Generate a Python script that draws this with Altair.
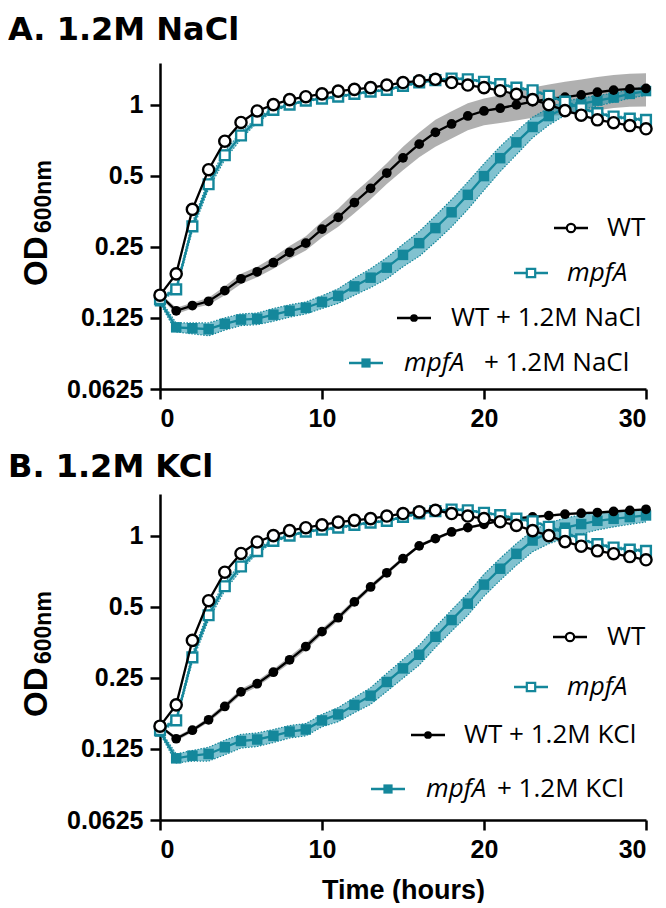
import altair as alt
import pandas as pd

# ---------------- data ----------------
hours = list(range(0, 31))

wt_od = [0.156, 0.192, 0.36, 0.53, 0.70, 0.84, 0.94, 1.0, 1.05, 1.08, 1.11, 1.14, 1.16, 1.18,
         1.21, 1.24, 1.26, 1.28, 1.24, 1.21, 1.18, 1.145, 1.105, 1.05, 1.0, 0.943, 0.902,
         0.862, 0.838, 0.815, 0.79]
mpfa_od = [0.15, 0.165, 0.305, 0.46, 0.61, 0.74, 0.86, 0.95, 1.0, 1.04, 1.06, 1.08, 1.11,
           1.135, 1.155, 1.2, 1.24, 1.27, 1.29, 1.28, 1.25, 1.22, 1.18, 1.15, 1.09, 1.03,
           0.965, 0.92, 0.89, 0.872, 0.862]
mpfa_sd = [0.002, 0.004, 0.012, 0.02, 0.025, 0.025, 0.02, 0.015, 0.01, 0.01, 0.01, 0.01,
           0.01, 0.01, 0.01, 0.01, 0.01, 0.01, 0.01, 0.01, 0.01, 0.01, 0.01, 0.01, 0.01,
           0.01, 0.01, 0.01, 0.01, 0.01, 0.01]

wt_nacl = [0.156, 0.134, 0.141, 0.147, 0.163, 0.183, 0.196, 0.214, 0.237, 0.259, 0.297,
           0.333, 0.385, 0.442, 0.513, 0.595, 0.68, 0.763, 0.828, 0.895, 0.94, 0.965, 0.997,
           1.03, 1.057, 1.076, 1.099, 1.128, 1.152, 1.165, 1.17]
wt_nacl_sd = [0.003, 0.004, 0.004, 0.005, 0.007, 0.009, 0.010, 0.012, 0.015, 0.018, 0.023,
              0.029, 0.038, 0.045, 0.052, 0.068, 0.082, 0.1, 0.11, 0.117, 0.122, 0.13,
              0.14, 0.15, 0.16, 0.172, 0.177, 0.182, 0.184, 0.186, 0.188]
mpfa_nacl = [0.147, 0.114, 0.113, 0.112, 0.118, 0.123, 0.124, 0.129, 0.134, 0.138, 0.146,
             0.155, 0.17, 0.185, 0.204, 0.231, 0.259, 0.3, 0.35, 0.415, 0.498, 0.593, 0.692,
             0.804, 0.894, 0.967, 1.007, 1.04, 1.071, 1.11, 1.141]
mpfa_nacl_sd = [0.003, 0.005, 0.006, 0.007, 0.007, 0.007, 0.007, 0.008, 0.008, 0.008, 0.009,
                0.011, 0.014, 0.017, 0.021, 0.025, 0.031, 0.038, 0.046, 0.055, 0.064, 0.072,
                0.078, 0.08, 0.075, 0.066, 0.058, 0.052, 0.048, 0.046, 0.045]

wt_kcl = [0.156, 0.138, 0.15, 0.166, 0.189, 0.218, 0.236, 0.264, 0.298, 0.339, 0.392, 0.449,
          0.524, 0.606, 0.696, 0.798, 0.905, 0.971, 1.036, 1.081, 1.116, 1.16, 1.182, 1.2,
          1.215, 1.232, 1.244, 1.252, 1.265, 1.278, 1.292]
wt_kcl_sd = [0.002, 0.003, 0.003, 0.004, 0.005, 0.006, 0.007, 0.008, 0.01, 0.011, 0.012,
             0.013, 0.014, 0.015, 0.015, 0.015, 0.015, 0.015, 0.015, 0.015, 0.015, 0.015,
             0.015, 0.015, 0.015, 0.015, 0.015, 0.015, 0.015, 0.015, 0.015]
mpfa_kcl = [0.148, 0.114, 0.117, 0.119, 0.127, 0.135, 0.137, 0.142, 0.148, 0.151, 0.165,
            0.175, 0.192, 0.21, 0.24, 0.274, 0.313, 0.373, 0.439, 0.515, 0.62, 0.724, 0.837,
            0.953, 1.028, 1.08, 1.119, 1.155, 1.178, 1.198, 1.217]
mpfa_kcl_sd = [0.003, 0.005, 0.006, 0.008, 0.009, 0.009, 0.009, 0.009, 0.009, 0.009, 0.01,
               0.012, 0.014, 0.017, 0.021, 0.025, 0.03, 0.037, 0.045, 0.055, 0.066, 0.077,
               0.088, 0.098, 0.104, 0.106, 0.104, 0.098, 0.09, 0.082, 0.075]

y_ticks = [0.0625, 0.125, 0.25, 0.5, 1]
x_ticks = [0, 10, 20, 30]

# ---------------- styling ----------------
W, H = 486, 326
TEAL = "#14879b"
BAND_TEAL = "#2d9ab0"
BAND_GRAY = "#9c9c9c"
TICK_FONT = "Liberation Sans"
LEG_FONT = "Open Sans"
TITLE_FONT = "DejaVu Sans"


def frame(vals, sd=None):
    d = pd.DataFrame({"t": hours, "v": vals})
    if sd is not None:
        d["lo"] = [a - b for a, b in zip(vals, sd)]
        d["hi"] = [a + b for a, b in zip(vals, sd)]
    return d


def one():
    return pd.DataFrame({"k": [0]})


def x_enc(title):
    return alt.X("t:Q", scale=alt.Scale(domain=[0, 30], nice=False, zero=False),
                 axis=alt.Axis(values=x_ticks, format="d", title=title, grid=False,
                               domainColor="black", domainWidth=2.5, tickColor="black",
                               tickWidth=2.5, tickSize=10, labelFont=TICK_FONT,
                               labelFontWeight="bold", labelFontSize=25, labelColor="black",
                               labelPadding=7, titleFont=TICK_FONT, titleFontWeight="bold",
                               titleFontSize=27, titleColor="black", titlePadding=15))


def y_enc(field):
    return alt.Y(field, type="quantitative",
                 scale=alt.Scale(type="log", base=2, domain=[0.0625, 1.5], nice=False),
                 axis=alt.Axis(values=y_ticks, format="~g", title=None, grid=False,
                               domainColor="black", domainWidth=2.5, tickColor="black",
                               tickWidth=2.5, tickSize=10, labelFont=TICK_FONT,
                               labelFontWeight="bold", labelFontSize=25, labelColor="black",
                               labelPadding=7))


def band(df, xt, fill, opacity, dotted):
    layers = [alt.Chart(df).mark_area(color=fill, opacity=opacity).encode(
        x=xt, y=y_enc("lo"), y2="hi")]
    if dotted:
        for f in ("lo", "hi"):
            layers.append(alt.Chart(df).mark_line(color=TEAL, strokeWidth=1.2,
                                                  strokeDash=[1.5, 1.5]).encode(
                x=xt, y=y_enc(f)))
    return layers


def series(df, xt, color, shape, filled, size):
    line = alt.Chart(df).mark_line(color=color, strokeWidth=2.3).encode(x=xt, y=y_enc("v"))
    if filled:
        pts = alt.Chart(df).mark_point(shape=shape, filled=True, color=color, size=size,
                                       opacity=1).encode(x=xt, y=y_enc("v"))
    else:
        pts = alt.Chart(df).mark_point(shape=shape, filled=True, fill="white", stroke=color,
                                       strokeWidth=2.4, size=size, opacity=1).encode(
            x=xt, y=y_enc("v"))
    return [line, pts]


def legend_entry(sym_x, y, parts, color, shape, filled):
    base = alt.Chart(one())
    layers = [base.mark_rule(color=color, strokeWidth=2.3).encode(
        x=alt.value(W + sym_x - 17), x2=alt.value(W + sym_x + 17), y=alt.value(y))]
    if filled:
        layers.append(base.mark_point(shape=shape, filled=True, color=color, opacity=1,
                                      size=60 if shape == "circle" else 85).encode(
            x=alt.value(W + sym_x), y=alt.value(y)))
    else:
        layers.append(base.mark_point(shape=shape, filled=True, fill="white", stroke=color,
                                      strokeWidth=2.2, opacity=1, size=70).encode(
            x=alt.value(W + sym_x), y=alt.value(y)))
    for txt, tx, italic in parts:
        layers.append(base.mark_text(text=txt, align="left", baseline="middle", font=LEG_FONT,
                                     fontSize=26, fontStyle="italic" if italic else "normal",
                                     color="black").encode(
            x=alt.value(W + tx), y=alt.value(y)))
    return layers


def panel(title, title_y, wt_s, wt_s_sd, mp_s, mp_s_sd, legend_rows, x_title):
    xt = x_enc(x_title)
    d_wt = frame(wt_od)
    d_mp = frame(mpfa_od, mpfa_sd)
    d_ws = frame(wt_s, wt_s_sd)
    d_ms = frame(mp_s, mp_s_sd)

    layers = []
    layers += band(d_ws, xt, BAND_GRAY, 0.8, False)
    layers += band(d_ms, xt, BAND_TEAL, 0.6, True)
    layers += band(d_mp, xt, BAND_TEAL, 0.5, True)
    layers += series(d_ms, xt, TEAL, "square", True, 110)
    layers += series(d_ws, xt, "black", "circle", True, 95)
    layers += series(d_mp, xt, TEAL, "square", False, 95)
    layers += series(d_wt, xt, "black", "circle", False, 125)

    for sym_x, y, parts, color, shape, filled in legend_rows:
        layers += legend_entry(sym_x, y, parts, color, shape, filled)

    base = alt.Chart(one())
    layers.append(base.mark_text(text=title, align="left", baseline="alphabetic",
                                 font=TITLE_FONT, fontWeight="bold", fontSize=32,
                                 color="black").encode(x=alt.value(-152), y=alt.value(title_y)))
    layers.append(base.mark_text(text="OD", align="left", baseline="alphabetic", angle=270,
                                 font=TICK_FONT, fontWeight="bold", fontSize=33,
                                 color="black").encode(x=alt.value(-113),
                                                       y=alt.value(H / 2 + 60)))
    layers.append(base.mark_text(text="600nm", align="left", baseline="alphabetic",
                                 angle=270, font=TICK_FONT, fontWeight="bold", fontSize=23,
                                 color="black").encode(x=alt.value(-109),
                                                       y=alt.value(H / 2 + 7)))
    return alt.layer(*layers).properties(width=W, height=H)


legend_a = [
    (-75, 165, [("WT", -39, False)], "black", "circle", False),
    (-115, 210, [("mpfA", -79, True)], TEAL, "square", False),
    (-232, 255, [("WT + 1.2M NaCl", -195, False)], "black", "circle", True),
    (-280, 300, [("mpfA", -242, True), ("+ 1.2M NaCl", -162, False)], TEAL, "square", True),
]
legend_b = [
    (-76, 143, [("WT", -39, False)], "black", "circle", False),
    (-115, 193, [("mpfA", -79, True)], TEAL, "square", False),
    (-218, 241, [("WT + 1.2M KCl", -182, False)], "black", "circle", True),
    (-258, 295, [("mpfA", -220, True), ("+ 1.2M KCl", -149, False)], TEAL, "square", True),
]

top = panel("A. 1.2M NaCl", -23, wt_nacl, wt_nacl_sd, mpfa_nacl, mpfa_nacl_sd,
            legend_a, None)
bottom = panel("B. 1.2M KCl", -17, wt_kcl, wt_kcl_sd, mpfa_kcl, mpfa_kcl_sd,
               legend_b, "Time (hours)")

chart = alt.vconcat(top, bottom, spacing=20).properties(
    padding={"left": 0, "right": 0, "top": 6, "bottom": 0}).configure_view(stroke=None)

chart.save("out.html", embed_options={"renderer": "svg", "actions": False})
